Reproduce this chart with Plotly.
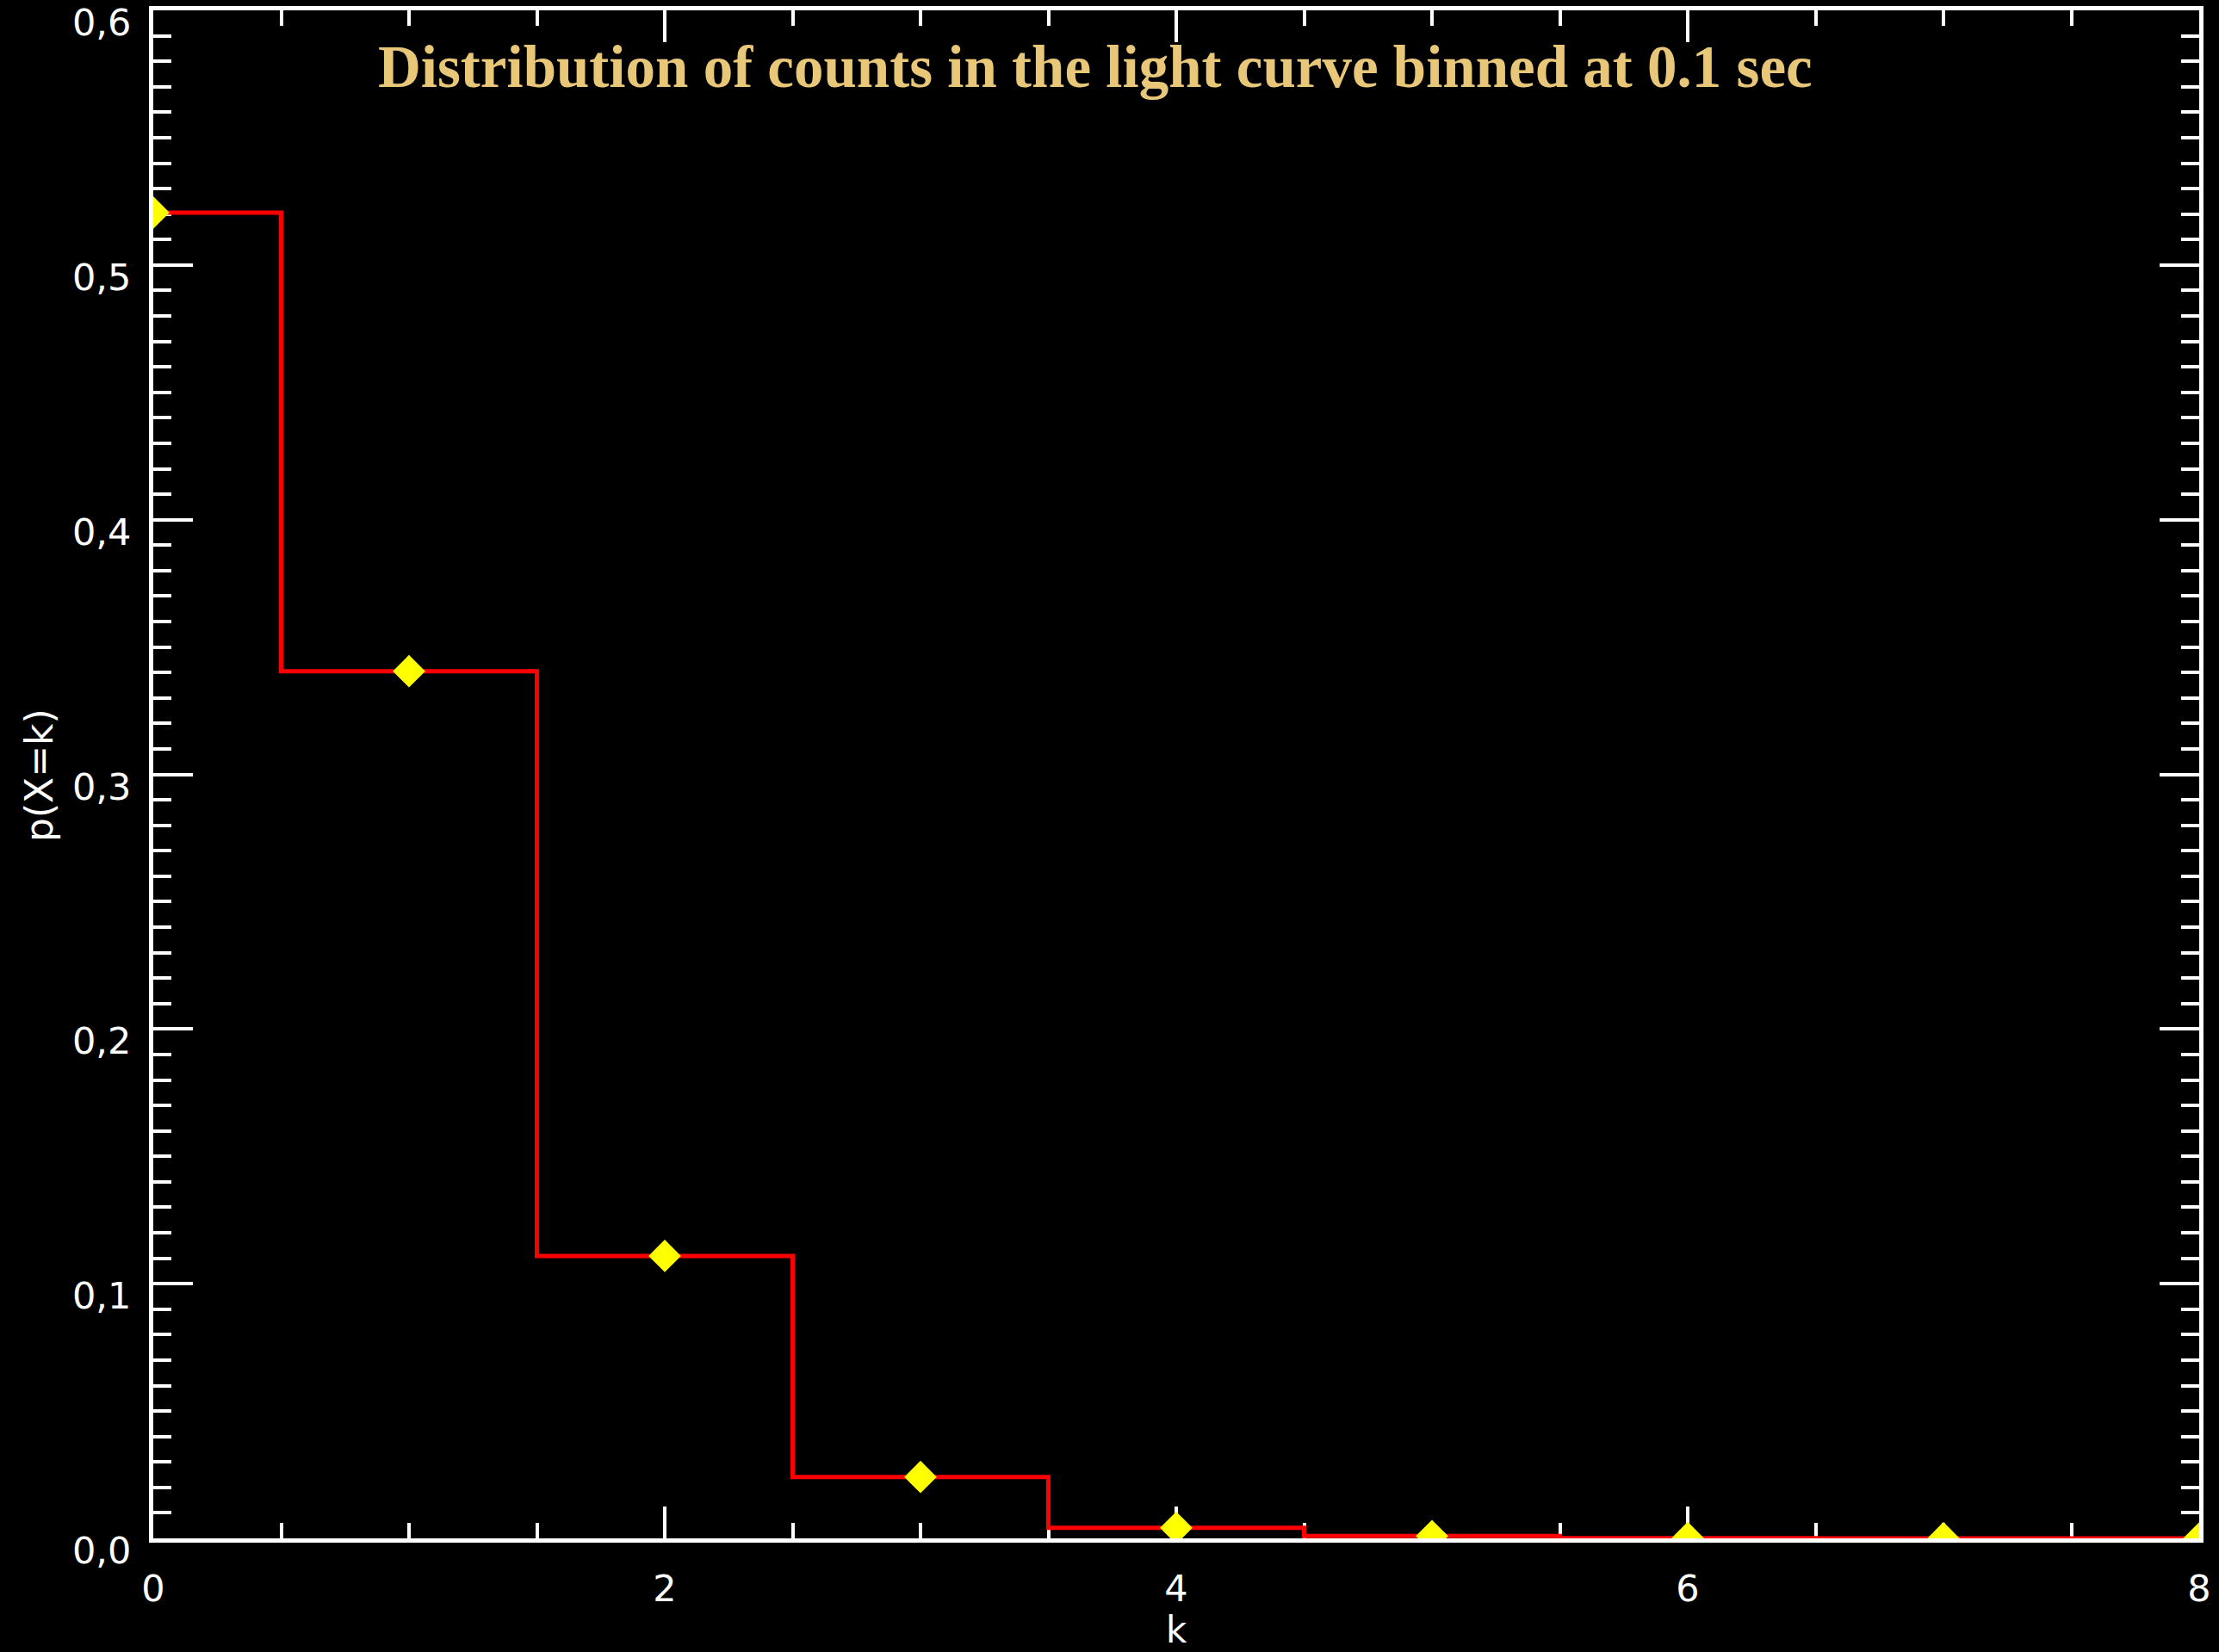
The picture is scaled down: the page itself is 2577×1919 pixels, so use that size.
import plotly.graph_objects as go

# Data
k_values = [0, 1, 2, 3, 4, 5, 6, 7, 8]
prob_values = [0.5206, 0.3405, 0.1109, 0.0241, 0.0041, 0.0009, 0.0001, 0.00001, 0.0]

x_tick_vals = [0, 2, 4, 6, 8]
x_tick_text = ["0", "2", "4", "6", "8"]
y_tick_vals = [0.0, 0.1, 0.2, 0.3, 0.4, 0.5, 0.6]
y_tick_text = ["0,0", "0,1", "0,2", "0,3", "0,4", "0,5", "0,6"]

title_text = "Distribution of counts in the light curve binned at 0.1 sec"
x_label = "k"
y_label = "p(X=k)"

W, H = 2577, 1919
ML, MR, MT, MB = 178, 23, 12, 132

fig = go.Figure()

fig.add_trace(go.Scatter(
    x=k_values, y=prob_values, mode="lines",
    line=dict(color="#FF0000", width=5, shape="hvh"),
    showlegend=False, hoverinfo="skip",
))
fig.add_trace(go.Scatter(
    x=k_values, y=prob_values, mode="markers",
    marker=dict(symbol="diamond", size=29, color="#FFFF00", line=dict(width=0)),
    cliponaxis=True, showlegend=False,
))

tick_font = dict(family="DejaVu Sans", size=43, color="white")

fig.update_xaxes(
    range=[0, 8], tickvals=x_tick_vals, ticktext=x_tick_text,
    ticks="inside", ticklen=37, tickwidth=4, tickcolor="white",
    showline=True, linecolor="white", linewidth=5, mirror="ticks",
    showgrid=False, zeroline=False, tickfont=tick_font,
    minor=dict(dtick=0.5, ticks="inside", ticklen=18, tickwidth=4,
               tickcolor="white", showgrid=False),
    ticklabelstandoff=16, ticklabeloverflow="allow", automargin=False,
    layer="below traces",
)
fig.update_yaxes(
    range=[0, 0.6], tickvals=y_tick_vals, ticktext=y_tick_text,
    ticks="inside", ticklen=46, tickwidth=4, tickcolor="white",
    showline=True, linecolor="white", linewidth=5, mirror="ticks",
    showgrid=False, zeroline=False, tickfont=tick_font,
    minor=dict(dtick=0.01, ticks="inside", ticklen=21, tickwidth=4,
               tickcolor="white", showgrid=False),
    ticklabelstandoff=12, ticklabeloverflow="allow", ticklabelshift=14,
    automargin=False,
    layer="below traces",
)

pw = W - ML - MR
ph = H - MT - MB

fig.add_annotation(
    text="<b>" + title_text + "</b>",
    xref="paper", yref="paper",
    x=(1272 - ML) / pw, y=(H - MB - 78) / ph,
    xanchor="center", yanchor="middle", showarrow=False,
    font=dict(family="Liberation Serif", size=69, color="#E8C878"),
)
fig.add_annotation(
    text=x_label, xref="paper", yref="paper",
    x=(1366 - ML) / pw, y=(H - MB - 1919) / ph,
    xanchor="center", yanchor="bottom", showarrow=False, borderpad=0,
    font=dict(family="DejaVu Sans", size=42, color="white"),
)
fig.add_annotation(
    text=y_label, xref="paper", yref="paper",
    x=(45 - ML) / pw, y=(H - MB - 901) / ph,
    xanchor="center", yanchor="middle", showarrow=False, textangle=-90,
    font=dict(family="DejaVu Sans", size=44, color="white"),
)

fig.update_layout(
    width=W, height=H,
    margin=dict(l=ML, r=MR, t=MT, b=MB, pad=0, autoexpand=False),
    paper_bgcolor="black", plot_bgcolor="black",
    showlegend=False,
)

fig.write_html("out.html")
